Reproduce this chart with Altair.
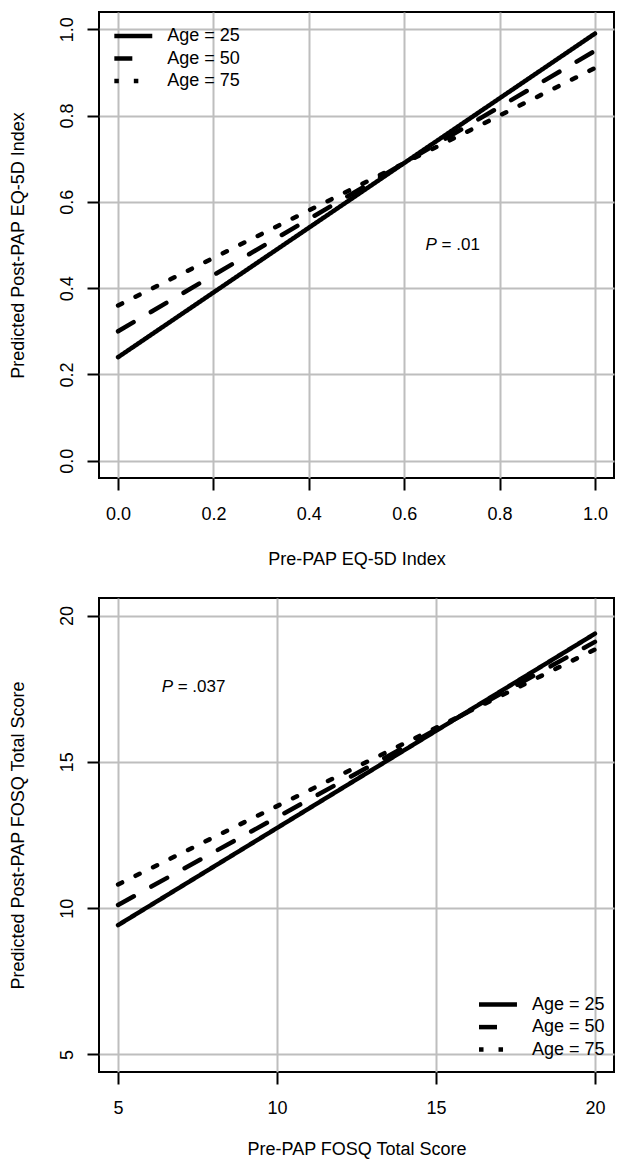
import altair as alt
import pandas as pd

# ---------------- data ----------------
ages = ["Age = 25", "Age = 50", "Age = 75"]

eq_pre = [0.0, 1.0]
eq_post_25 = [0.24, 0.99]
eq_post_50 = [0.30, 0.95]
eq_post_75 = [0.36, 0.91]
eq_ticks = [0.0, 0.2, 0.4, 0.6, 0.8, 1.0]

fosq_pre = [5, 20]
fosq_post_25 = [9.42, 19.38]
fosq_post_50 = [10.11, 19.10]
fosq_post_75 = [10.81, 18.84]
fosq_ticks = [5, 10, 15, 20]

p_eq_x = [0.70]
p_eq_y = [0.50]
p_eq_text = ["= .01"]
p_fosq_x = [7.2]
p_fosq_y = [17.57]
p_fosq_text = ["= .037"]

FONT = "Liberation Sans"
FS = 18
PFS = 17


def long_df(xs, series):
    rows = []
    for age, ys in zip(ages, series):
        for x, y in zip(xs, ys):
            rows.append({"pre": x, "post": y, "age": age})
    return pd.DataFrame(rows)


eq_df = long_df(eq_pre, [eq_post_25, eq_post_50, eq_post_75])
fosq_df = long_df(fosq_pre, [fosq_post_25, fosq_post_50, fosq_post_75])


def x_axis(values, fmt, title, ty):
    return alt.Axis(
        values=values, format=fmt, grid=True, gridColor="#bebebe", gridWidth=2,
        domain=False, tickColor="black", tickWidth=2, tickSize=12,
        labelFontSize=FS, labelColor="black", labelFont=FONT, labelPadding=29.9,
        labelBaseline="alphabetic", labelAngle=0, labelFlush=False, labelOverlap=False,
        title=title, titleFontSize=FS, titleFont=FONT, titleFontWeight="normal",
        titleColor="black", titleBaseline="alphabetic", titleY=ty,
    )


def y_axis(values, fmt, title):
    return alt.Axis(
        values=values, format=fmt, grid=True, gridColor="#bebebe", gridWidth=2,
        domain=False, tickColor="black", tickWidth=2, tickSize=12,
        labelFontSize=FS, labelColor="black", labelFont=FONT, labelPadding=14.3,
        labelAngle=270, labelAlign="center", labelBaseline="alphabetic",
        labelFlush=False, labelOverlap=False,
        title=title, titleFontSize=FS, titleFont=FONT, titleFontWeight="normal",
        titleColor="black", titleAngle=270, titleBaseline="alphabetic", titleX=-75.5,
    )


dash_scale = alt.Scale(domain=ages, range=[[1, 0], [18, 20], [4.5, 15]])


def legend(lx, ly):
    return alt.Legend(
        orient="none", legendX=lx, legendY=ly, title=None,
        symbolType="M-3,0H3", symbolSize=160, symbolStrokeWidth=4.5,
        symbolStrokeColor="black", symbolFillColor="transparent", symbolOffset=0,
        labelOffset=25, labelFontSize=FS, labelFont=FONT, labelColor="black",
        labelBaseline="middle", rowPadding=4.5, padding=0,
    )


def panel(df, xs_dom, ys_dom, ticks, fmt, xtitle, ytitle, w, h, ty, lx, ly, px, py, ptext):
    lines = alt.Chart(df).mark_line(color="black", strokeWidth=4.5, strokeCap="round").encode(
        x=alt.X("pre:Q", scale=alt.Scale(domain=xs_dom, nice=False, zero=False),
                axis=x_axis(ticks, fmt, xtitle, ty)),
        y=alt.Y("post:Q", scale=alt.Scale(domain=ys_dom, nice=False, zero=False),
                axis=y_axis(ticks, fmt, ytitle)),
        strokeDash=alt.StrokeDash("age:N", scale=dash_scale, legend=legend(lx, ly)),
        detail="age:N",
    )
    pdf = pd.DataFrame({"x": px, "y": py, "label": ptext})
    p_italic = alt.Chart(pdf).mark_text(
        align="right", baseline="middle", dx=-15, fontSize=PFS, font=FONT,
        fontStyle="italic", color="black", text="P",
    ).encode(x="x:Q", y="y:Q")
    p_rest = alt.Chart(pdf).mark_text(
        align="left", baseline="middle", dx=-10.3, fontSize=PFS, font=FONT, color="black",
    ).encode(x="x:Q", y="y:Q", text="label:N")
    return alt.layer(lines, p_italic, p_rest).properties(
        width=w, height=h, view=alt.ViewBackground(stroke="black", strokeWidth=2)
    )


top = panel(eq_df, [-0.04, 1.04], [-0.04, 1.04], eq_ticks, ".1f",
            "Pre-PAP EQ-5D Index", "Predicted Post-PAP EQ-5D Index", 515, 466, 86,
            25.3, 15, p_eq_x, p_eq_y, p_eq_text)
bottom = panel(fosq_df, [4.4, 20.6], [4.4, 20.6], fosq_ticks, "d",
               "Pre-PAP FOSQ Total Score", "Predicted Post-PAP FOSQ Total Score", 515, 474, 82,
               390, 397.6, p_fosq_x, p_fosq_y, p_fosq_text)

chart = alt.vconcat(top, bottom, spacing=28).resolve_scale(
    strokeDash="independent"
).resolve_legend(strokeDash="independent").properties(
    padding={"left": 0, "top": 3, "right": 0, "bottom": 0}
).configure(font=FONT, background="white").configure_view(stroke="black", strokeWidth=2)

chart.save("out.html", embed_options={"renderer": "svg", "actions": False})
